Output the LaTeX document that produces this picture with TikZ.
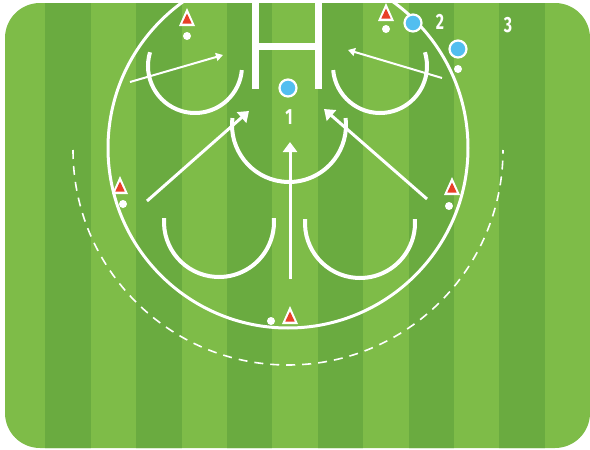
\documentclass[tikz,border=0pt]{standalone}
\usepackage{fontspec}
\newfontfamily\numfont[FakeStretch=0.72]{Fira Sans}
\usepackage{xcolor}
\definecolor{pitchlight}{RGB}{126,188,72}
\definecolor{pitchdark}{RGB}{106,171,64}
\definecolor{conered}{RGB}{232,64,40}
\definecolor{playerblue}{RGB}{82,190,240}
\usetikzlibrary{arrows.meta}

\begin{document}
\begin{tikzpicture}[x=1pt, y=-1pt,
  chalk/.style={draw=white, line width=3pt},
  curve/.style={draw=white, line width=4pt},
  run/.style={draw=white, line width=3pt, -{Triangle[width=14pt,length=10pt]}},
  shortrun/.style={draw=white, line width=2pt, -{Triangle[width=8pt,length=7pt]}},
  player/.style={circle, fill=playerblue, draw=white, line width=2.2pt,
                 minimum size=17pt, inner sep=0pt},
  marker/.style={circle, fill=white, inner sep=0pt, minimum size=8pt},
  number/.style={text=white, font=\numfont\bfseries\fontsize{22}{22}\selectfont},
  cone/.pic={\fill[white] (0,-10) -- (8,8) -- (-8,8) -- cycle;
             \fill[conered] (0,-4.5) -- (4.7,5.5) -- (-4.7,5.5) -- cycle;}
]
\useasboundingbox (0,0) rectangle (590,450);

% Pitch
\begin{scope}
  \clip[rounded corners=35pt] (5,3) rectangle (590,448);
  \fill[pitchlight] (0,0) rectangle (590,450);
  \foreach \i in {1,3,...,11}
    \fill[pitchdark] ({\i*45.4},0) rectangle ({(\i+1)*45.4},450);
  % circle and goal
  \draw[chalk] (288,148) circle[radius=180];
  \draw[white, line width=7pt] (255.5,0) -- (255.5,89);
  \draw[white, line width=7pt] (318,0) -- (318,89);
  \draw[white, line width=7pt] (252,46) -- (322,46);
\end{scope}

% Outer dashed arc
\draw[white, line width=1.6pt, dash pattern=on 9pt off 7pt]
  (73,150) arc[start angle=180, end angle=0, radius=215];

% Curves
\draw[curve] ([shift={(197:47)}]195,66) arc[start angle=197, end angle=5, radius=47];
\draw[curve] ([shift={(175:47)}]380,66) arc[start angle=175, end angle=-17, radius=47];
\draw[curve] ([shift={(187:57)}]289,125) arc[start angle=187, end angle=-7, radius=57];
\draw[curve] ([shift={(184:55)}]219,222) arc[start angle=184, end angle=-4, radius=55];
\draw[curve] ([shift={(184:55)}]360,223) arc[start angle=184, end angle=-4, radius=55];

% Runs
\coordinate (tlA) at (130,82);  \coordinate (tlB) at (223,55);
\coordinate (trA) at (442,78);  \coordinate (trB) at (348,50);
\coordinate (mlA) at (147,201); \coordinate (mlB) at (249,111);
\coordinate (mrA) at (427,199); \coordinate (mrB) at (324,109);
\coordinate (cA)  at (290,279); \coordinate (cB)  at (290,142);
\draw[shortrun] (tlA) -- (tlB);
\draw[shortrun] (trA) -- (trB);
\draw[run] (mlA) -- (mlB);
\draw[run] (mrA) -- (mrB);
\draw[run] (cA) -- (cB);

% Cones
\pic (cone1) at (187,18)  {cone};
\pic (cone2) at (386,13)  {cone};
\pic (cone3) at (120,186) {cone};
\pic (cone4) at (452,187) {cone};
\pic (cone5) at (290,316) {cone};
\node[marker] (m1) at (187,36)  {};
\node[marker] (m2) at (386,29)  {};
\node[marker] (m3) at (123,204) {};
\node[marker] (m4) at (449,206) {};
\node[marker] (m5) at (271,321) {};
\node[marker] (m6) at (458,69)  {};

% Players
\node[player] (p1) at (288,88) {};
\node[player] (p2) at (413,23) {};
\node[player] (p3) at (458,49) {};
\node[number] (n1) at (289,117) {1};
\node[number] (n2) at (440,22)  {2};
\node[number] (n3) at (508,25)  {3};

\end{tikzpicture}
\end{document}
